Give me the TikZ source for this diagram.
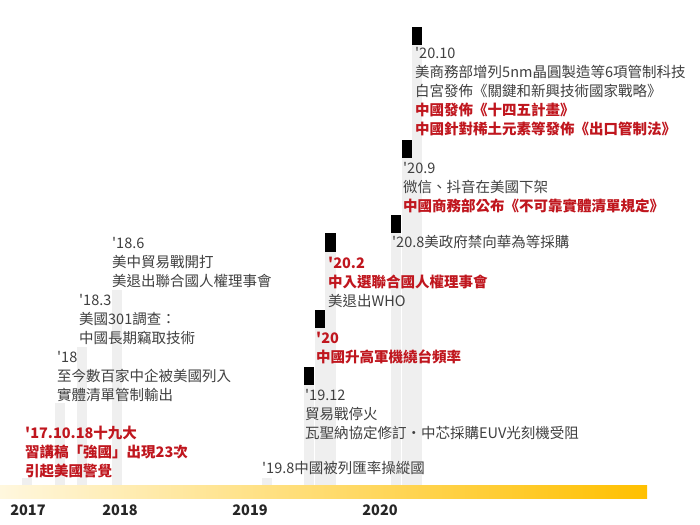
\documentclass[tikz,border=0pt]{standalone}
\usepackage{fontspec}
\newfontfamily\zhfont{Noto Sans CJK TC}
\usetikzlibrary{positioning}
\definecolor{txtgray}{HTML}{404040}
\definecolor{txtdark}{HTML}{262626}
\definecolor{evred}{HTML}{C0161E}
\definecolor{barfill}{HTML}{EFEFEF}
\definecolor{axislight}{HTML}{FFF7DE}
\definecolor{axisgold}{HTML}{FFC000}
\newcommand{\redline}[1]{\textcolor{evred}{\bfseries #1}}

\tikzset{
  evtext/.style={anchor=base west, inner sep=0pt, align=left, text=txtgray,
    font=\zhfont\fontsize{14.5}{19}\selectfont},
  evredtext/.style={evtext, text=evred, font=\zhfont\fontsize{14.5}{19}\selectfont\bfseries},
  yearlab/.style={inner sep=0pt, text=txtdark, font=\zhfont\fontsize{14.5}{17}\selectfont\bfseries},
}

\begin{document}
\begin{tikzpicture}[x=1pt, y=-1pt]

% Canvas
\useasboundingbox (0,0) rectangle (700,524);
\fill[white] (0,0) rectangle (700,524);

% Gray bars behind the events
\fill[barfill] (22,478) rectangle (32,485);
\fill[barfill] (55,403) rectangle (65,485);
\fill[barfill] (77,347) rectangle (87,485);
\fill[barfill] (112,290) rectangle (122,485);
\fill[barfill] (262,478) rectangle (272,485);
\fill[barfill] (304,367) rectangle (314,485);
\fill[barfill] (315,310) rectangle (325,485);
\fill[barfill] (325,233) rectangle (336,485);
\fill[barfill] (391,215) rectangle (401,485);
\fill[barfill] (402,140) rectangle (412,485);
\fill[barfill] (412,27) rectangle (422,485);

% Black markers on top of the later bars
\fill[black] (304,367) rectangle (314,385);
\fill[black] (315,310) rectangle (325,328);
\fill[black] (325,233) rectangle (336,252);
\fill[black] (391,215) rectangle (401,233);
\fill[black] (402,140) rectangle (412,158);
\fill[black] (412,27) rectangle (422,45);

% Time axis
\shade[left color=axislight, right color=axisgold] (0,485) rectangle (647,498);

% Years
\node[yearlab] (y2017) at (28,510) {2017};
\node[yearlab] (y2018) at (120,510) {2018};
\node[yearlab] (y2019) at (250,510) {2019};
\node[yearlab] (y2020) at (380,510) {2020};

% 2017 - 2018 (anchor = baseline of last line)
\node[evredtext] (e17) at (25,476.5) {'17.10.18十九大\\習講稿「強國」出現23次\\引起美國警覺};
\node[evtext] (e18) at (57,400.5) {'18\\至今數百家中企被美國列入\\實體清單管制輸出};
\node[evtext] (e183) at (79,343.5) {'18.3\\美國301調查：\\中國長期竊取技術};
\node[evtext] (e186) at (112,286.5) {'18.6\\美中貿易戰開打\\美退出聯合國人權理事會};

% 2019
\node[evtext] (e198) at (262,473.5) {'19.8中國被列匯率操縱國};
\node[evtext] (e1912) at (305,438.5) {'19.12\\貿易戰停火\\瓦聖納協定修訂・中芯採購EUV光刻機受阻};

% 2020
\node[evredtext] (e20) at (316,362.5) {'20\\中國升高軍機繞台頻率};
\node[evtext] (e202) at (328,306.5) {\redline{'20.2}\\\redline{中入選聯合國人權理事會}\\美退出WHO};
\node[evtext] (e208) at (392,247.5) {'20.8美政府禁向華為等採購};
\node[evtext] (e209) at (403,211.5) {'20.9\\微信、抖音在美國下架\\\redline{中國商務部公布《不可靠實體清單規定》}};
\node[evtext] (e2010) at (415,134.5) {'20.10\\美商務部增列5nm晶圓製造等6項管制科技\\白宮發佈《關鍵和新興技術國家戰略》\\\redline{中國發佈《十四五計畫》}\\\redline{中國針對稀土元素等發佈《出口管制法》}};

\end{tikzpicture}
\end{document}
